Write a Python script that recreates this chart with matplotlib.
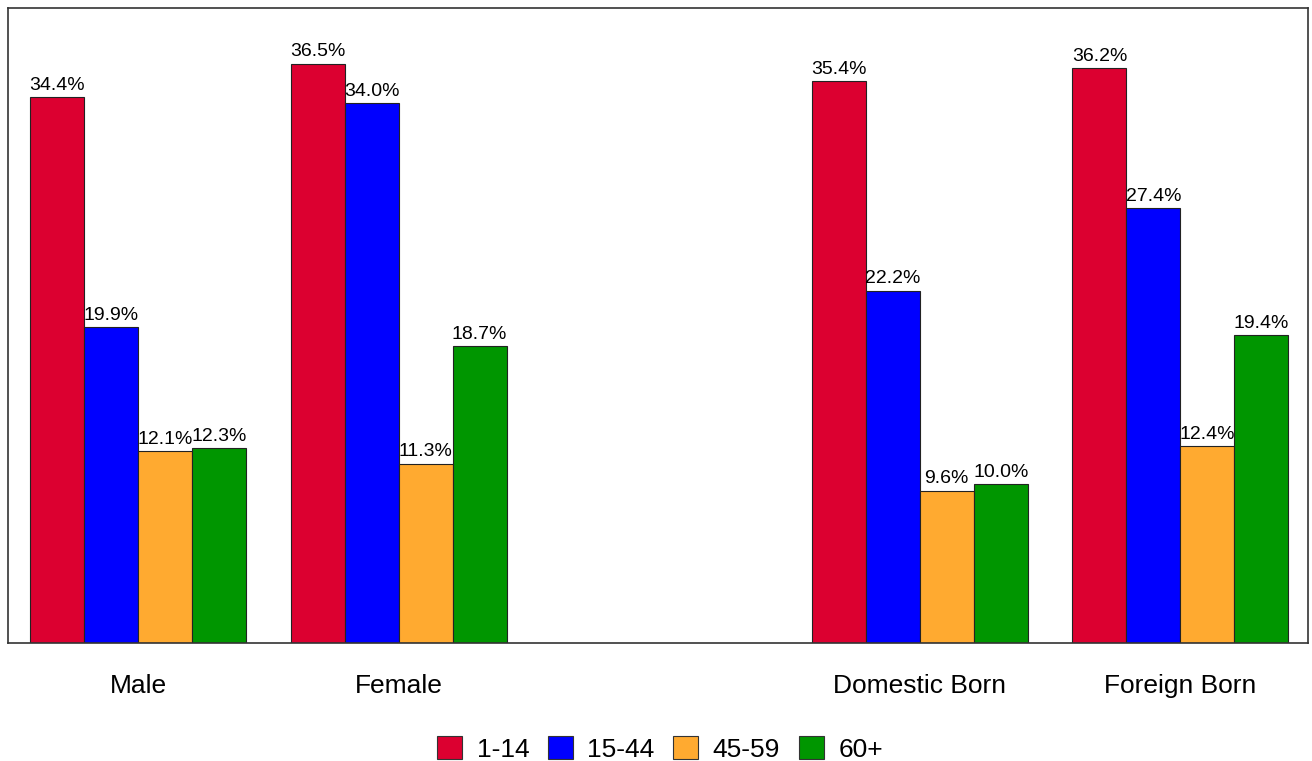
import numpy as np
import matplotlib
matplotlib.use("Agg")
import matplotlib.pyplot as plt
from matplotlib.patches import Patch

plt.rcParams["font.family"] = ["Liberation Sans", "DejaVu Sans"]

# groups (empty slot in the middle between sex and birthplace)
groups = ["Male", "Female", "", "Domestic Born", "Foreign Born"]
age_bands = ["1-14", "15-44", "45-59", "60+"]
colors = ["#DC0030", "#0000FF", "#FFAA30", "#009600"]

# values per age band, one per group (None = empty slot)
v_1_14 = [34.4, 36.5, None, 35.4, 36.2]
v_15_44 = [19.9, 34.0, None, 22.2, 27.4]
v_45_59 = [12.1, 11.3, None, 9.6, 12.4]
v_60 = [12.3, 18.7, None, 10.0, 19.4]
series = [v_1_14, v_15_44, v_45_59, v_60]

fig = plt.figure(figsize=(13.12, 7.61), dpi=100)
ax = fig.add_axes([8 / 1312, 1 - 643 / 761, 1300 / 1312, 635 / 761])

x = np.arange(len(groups))
w = 0.207
for i, (vals, c) in enumerate(zip(series, colors)):
    xs = [xi for xi, v in zip(x, vals) if v is not None]
    ys = [v for v in vals if v is not None]
    pos = np.array(xs) + (i - 1.5) * w
    bars = ax.bar(pos, ys, width=w, color=c, edgecolor="#222222", linewidth=0.8)
    for b, v in zip(bars, ys):
        ax.text(b.get_x() + b.get_width() / 2, v + 0.2, f"{v:.1f}%",
                ha="center", va="bottom", fontsize=14)

ax.set_xlim(-0.5, 4.49)
ax.set_ylim(0, 40)
ax.set_yticks([])
ax.set_xticks([0, 1, 3, 4])
ax.set_xticklabels(["Male", "Female", "Domestic Born", "Foreign Born"], fontsize=19)
ax.tick_params(axis="x", length=0, pad=22)
for s in ax.spines.values():
    s.set_color("#333333")
    s.set_linewidth(1.2)

handles = [Patch(facecolor=c, edgecolor="#333333", linewidth=0.8) for c in colors]
fig.legend(handles, age_bands, loc="center", bbox_to_anchor=(660 / 1312, 1 - 749 / 761),
           ncol=4, frameon=False, fontsize=19, handlelength=0.95, handleheight=0.95,
           handletextpad=0.55, columnspacing=0.7)

fig.savefig("out.png", dpi=100)
